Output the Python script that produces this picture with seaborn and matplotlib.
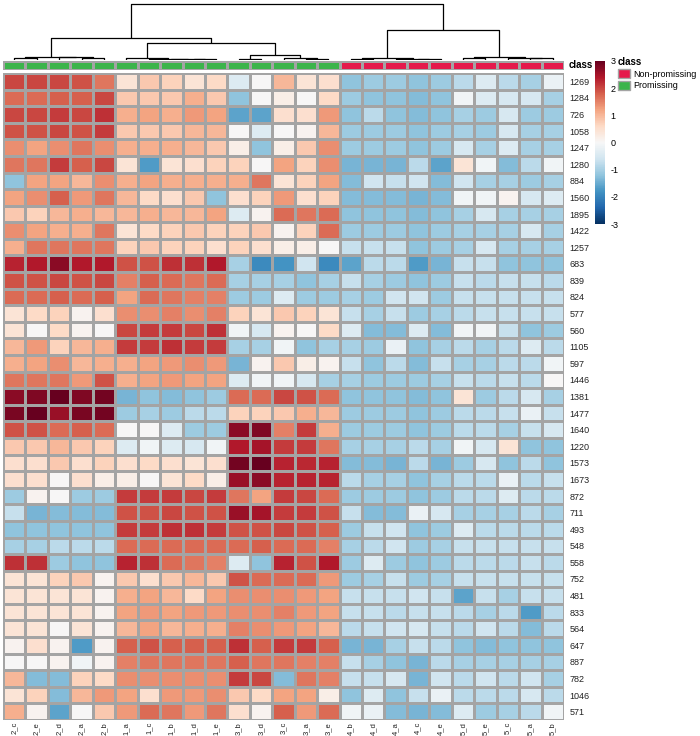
import numpy as np
import pandas as pd
import matplotlib
matplotlib.use("Agg")
import matplotlib.pyplot as plt
from matplotlib.colors import ListedColormap
from matplotlib.patches import Patch
import seaborn as sns

# ---------------- data ----------------
columns = ["2_c", "2_e", "2_d", "2_a", "2_b",
           "1_a", "1_c", "1_b", "1_d", "1_e",
           "3_b", "3_d", "3_c", "3_a", "3_e",
           "4_b", "4_d", "4_a", "4_c", "4_e",
           "5_d", "5_e", "5_c", "5_a", "5_b"]
classes = ["Promissing"] * 15 + ["Non-promissing"] * 10
class_names = ["Non-promissing", "Promissing"]

features = ["1269", "1284", "726", "1058", "1247", "1280", "884", "1560", "1895",
            "1422", "1257", "683", "839", "824", "577", "560", "1105", "597",
            "1446", "1381", "1477", "1640", "1220", "1573", "1673", "872", "711",
            "493", "548", "558", "752", "481", "833", "564", "647", "887", "782",
            "1046", "571"]

values = [
    [2.0, 2.0, 2.0, 1.9, 1.6,  0.4, 0.8, 0.7, 0.4, 0.6,  -0.4, 0.0, 1.0, 0.4, 0.5,  -1.2, -1.1, -1.1, -1.2, -1.1,  -0.8, -0.4, -0.8, -1.0, -0.2],
    [1.7, 1.7, 1.8, 1.8, 2.0,  0.8, 0.8, 0.8, 1.1, 0.8,  -1.2, 0.0, 0.2, 0.0, 0.6,  -1.1, -1.2, -1.2, -1.3, -1.2,  -0.1, -0.4, -0.5, -0.5, -1.0],
    [2.0, 2.0, 2.1, 2.0, 2.2,  1.1, 1.2, 1.1, 1.3, 1.2,  -1.6, -1.6, 0.5, 0.5, 1.3,  -1.2, -0.8, -1.2, -1.3, -1.2,  -1.0, -1.1, -0.5, -1.1, -1.1],
    [1.9, 1.9, 2.0, 1.9, 2.1,  0.8, 0.8, 0.8, 1.0, 1.0,  0.0, -0.4, 0.0, 0.1, 1.0,  -1.1, -1.1, -1.1, -1.2, -1.1,  -1.0, -1.1, -0.5, -1.0, -1.0],
    [1.4, 1.2, 1.4, 1.6, 1.4,  1.1, 1.1, 1.1, 1.0, 0.8,  0.2, -1.2, 0.2, 0.8, 1.4,  -1.1, -1.1, -1.1, -1.2, -1.1,  -0.5, -1.0, -0.4, -1.0, -1.0],
    [1.6, 1.6, 2.1, 1.8, 2.0,  0.4, -1.7, 0.4, 0.5, 0.7,  0.7, 0.0, 1.2, 0.7, 1.4,  -1.4, -1.4, -1.4, -0.8, -1.6,  0.4, -0.1, -1.3, -0.8, -0.1],
    [-1.2, 1.2, 1.2, 1.0, 1.4,  1.1, 1.2, 1.1, 1.1, 1.1,  1.1, 1.6, 0.4, 0.7, 1.2,  -1.3, -0.6, -0.7, -0.6, -1.3,  -0.6, -1.0, -1.0, -1.1, -1.0],
    [1.2, 1.4, 1.8, 1.3, 1.6,  1.0, 0.6, 0.5, 0.8, -1.2,  0.5, 0.7, 1.3, 0.5, 0.7,  -1.3, -1.3, -1.3, -1.4, -1.3,  -0.1, -0.1, 0.1, -0.5, -0.4],
    [0.8, 0.7, 1.0, 1.1, 1.0,  1.0, 1.1, 1.0, 1.0, 1.2,  -0.4, 0.1, 1.7, 1.6, 1.7,  -1.2, -1.2, -1.2, -1.3, -1.2,  -1.0, -0.5, -1.0, -1.0, -1.0],
    [1.4, 1.2, 1.1, 1.1, 1.6,  0.4, 0.6, 0.7, 0.8, 0.7,  0.7, 0.8, 0.1, 0.7, 1.7,  -1.1, -1.1, -1.1, -1.2, -1.1,  -1.0, -1.0, -1.0, -0.5, -1.0],
    [1.1, 1.6, 1.6, 1.6, 1.6,  0.7, 0.8, 0.7, 0.7, 0.5,  0.7, 0.5, 0.2, 0.2, 0.0,  -0.7, -0.7, -0.7, -1.2, -1.1,  -1.0, -0.5, -1.0, -1.0, -1.0],
    [2.3, 2.4, 2.7, 2.4, 2.4,  1.9, 1.9, 2.2, 2.2, 2.4,  -1.0, -1.9, -1.8, -0.6, -1.9,  -1.6, -0.8, -0.8, -1.7, -1.4,  -0.7, -0.7, -1.2, -1.2, -1.2],
    [1.9, 1.9, 2.0, 1.9, 2.0,  1.5, 1.8, 1.7, 1.6, 1.7,  -1.0, -1.0, -1.0, -1.2, -1.0,  -0.7, -1.0, -1.1, -1.2, -1.1,  -0.7, -0.8, -0.7, -0.7, -0.8],
    [1.7, 1.7, 1.8, 1.7, 1.8,  1.2, 1.7, 1.6, 1.5, 1.5,  -1.1, -1.1, -0.4, -1.1, -1.1,  -1.0, -1.1, -0.6, -0.6, -1.1,  -0.7, -0.7, -0.7, -0.7, -0.7],
    [0.4, 0.6, 0.7, 0.1, 0.5,  1.4, 1.4, 1.5, 1.4, 1.5,  0.7, 0.4, 0.8, 0.7, 0.4,  -0.7, -1.0, -0.7, -1.1, -1.0,  -0.8, -0.7, -0.7, -0.7, -0.7],
    [0.4, 0.0, 0.6, 0.1, 0.0,  2.0, 2.1, 2.1, 2.0, 2.2,  -0.1, -0.5, 0.1, 0.0, 0.6,  -0.4, -1.3, -1.3, -0.4, -1.3,  -0.1, -0.1, -0.7, -1.2, -1.1],
    [1.0, 1.3, 0.7, 1.0, 1.1,  2.1, 2.1, 2.2, 2.1, 2.1,  -1.0, -1.0, -0.1, -1.2, -1.0,  -1.0, -1.1, -0.2, -1.2, -1.0,  -0.8, -1.0, -0.8, -0.4, -0.8],
    [1.1, 1.2, 1.4, 1.0, 1.1,  1.1, 1.2, 1.3, 1.4, 1.3,  -1.4, 0.1, 0.8, 0.2, 0.1,  -0.7, -1.2, -0.8, -1.3, -0.7,  -1.0, -1.0, -0.8, -0.8, -0.1],
    [1.6, 1.6, 1.6, 1.3, 1.9,  1.1, 1.2, 1.3, 1.2, 1.2,  -0.4, -0.1, -0.1, -0.5, -1.0,  -1.0, -1.1, -1.1, -1.1, -1.0,  -0.7, -0.8, -0.7, -0.8, 0.0],
    [2.7, 2.8, 3.0, 2.8, 2.9,  -1.4, -1.2, -1.3, -1.2, -1.1,  1.7, 1.7, 2.0, 1.9, 1.7,  -1.2, -1.2, -1.2, -1.3, -1.2,  0.4, -1.1, -0.8, -0.5, -1.0],
    [2.85, 3.0, 2.6, 2.85, 2.9,  -1.1, -1.0, -1.1, -0.8, -0.8,  0.7, 0.7, 0.8, 1.1, 1.0,  -1.1, -1.1, -1.1, -1.2, -1.1,  -0.8, -0.8, -0.7, -0.2, -0.7],
    [1.9, 1.9, 1.7, 1.8, 1.7,  0.0, 0.0, -0.4, -1.1, -1.1,  2.7, 2.8, 1.5, 2.1, 1.1,  -1.1, -1.1, -1.1, -1.2, -1.1,  -0.8, -0.8, -1.0, -0.7, -0.5],
    [0.8, 0.8, 1.0, 0.8, 0.7,  -0.4, -0.1, -0.4, -0.5, -0.1,  2.4, 2.5, 2.1, 2.1, 1.6,  -1.0, -1.0, -1.0, -0.8, -1.0,  -0.1, -0.5, 0.4, -1.2, -1.2],
    [0.5, 0.5, 0.8, 0.5, 0.7,  0.5, 0.6, 0.5, 0.4, 0.5,  2.9, 3.0, 2.3, 2.25, 2.3,  -1.3, -1.3, -1.4, -0.8, -1.4,  -1.1, -0.5, -1.2, -0.8, -1.2],
    [0.5, 0.5, 0.0, 0.5, 0.2,  0.2, 0.0, 0.4, 0.6, 0.2,  2.6, 2.7, 2.3, 2.3, 2.3,  -0.8, -1.0, -1.0, -1.2, -1.0,  -0.8, -0.8, -0.2, -0.8, -0.7],
    [-1.1, 0.1, 0.0, -1.1, -1.1,  2.1, 2.1, 2.1, 2.0, 2.1,  1.6, 1.2, 2.1, 2.0, 1.7,  -1.1, -1.1, -1.1, -1.2, -1.1,  -0.8, -0.8, -0.4, -0.8, -0.8],
    [-0.7, -1.4, -1.3, -1.3, -1.3,  1.9, 1.9, 2.0, 1.9, 1.9,  2.6, 2.5, 2.1, 2.1, 1.9,  -0.7, -1.3, -1.3, -0.2, -0.5,  -1.0, -1.0, -1.0, -0.8, -1.0],
    [-1.2, -1.2, -1.2, -1.2, -1.2,  2.1, 2.1, 2.2, 2.2, 2.1,  1.9, 1.9, 2.0, 1.9, 1.8,  -1.1, -0.7, -0.6, -1.2, -1.1,  -0.4, -0.8, -0.8, -0.8, -0.8],
    [-1.0, -1.0, -0.8, -0.8, -0.8,  1.7, 1.7, 1.7, 1.7, 1.7,  1.7, 1.8, 1.7, 1.7, 1.5,  -1.0, -0.8, -0.6, -1.1, -1.0,  -0.7, -0.7, -0.7, -0.7, -0.7],
    [2.2, 2.2, -1.1, -1.2, -1.2,  2.3, 2.2, 1.7, 1.6, 1.5,  -0.4, -1.2, 2.3, 1.9, 2.4,  -1.1, -0.4, -1.1, -1.2, -1.1,  -0.8, -0.8, -0.8, -0.7, -0.8],
    [0.4, 0.4, 0.7, 0.8, 0.1,  0.8, 0.5, 0.8, 1.0, 0.8,  1.9, 1.7, 1.7, 1.7, 1.3,  -1.1, -1.0, -0.7, -1.1, -1.0,  -0.7, -0.7, -0.7, -0.7, -0.7],
    [0.4, 0.4, 0.4, 0.4, 0.1,  1.1, 1.2, 1.0, 0.6, 1.2,  1.4, 1.4, 1.4, 1.3, 1.2,  -0.7, -0.7, -0.7, -0.6, -0.7,  -1.6, -0.7, -1.0, -0.7, -0.7],
    [0.4, 0.4, 0.4, 0.4, 0.1,  1.2, 1.3, 1.2, 1.3, 1.3,  1.4, 1.4, 1.5, 1.3, 1.2,  -0.7, -0.7, -0.8, -0.7, -0.7,  -0.8, -1.0, -0.8, -1.7, -0.8],
    [0.4, 0.4, 0.0, 0.4, 0.1,  1.0, 1.2, 1.0, 1.1, 1.1,  1.5, 1.4, 1.3, 1.2, 1.0,  -0.8, -0.7, -0.6, -0.5, -0.7,  -0.8, -0.6, -0.8, -1.3, -0.8],
    [0.1, 0.5, 0.1, -1.7, 0.1,  1.8, 1.9, 1.8, 1.8, 1.8,  2.2, 1.8, 2.1, 2.1, 1.8,  -1.4, -1.4, -1.0, -0.7, -0.8,  -1.2, -1.3, -1.2, -1.2, -1.2],
    [0.0, 0.0, 0.1, -0.1, 0.1,  1.5, 1.6, 1.6, 1.6, 1.6,  1.8, 1.6, 1.6, 1.5, 1.5,  -0.7, -1.0, -1.2, -1.4, -0.8,  -1.0, -1.0, -1.0, -1.0, -1.0],
    [1.0, -1.3, -1.3, 0.7, 0.6,  1.4, 1.4, 1.4, 1.4, 1.4,  2.1, 2.0, -1.3, 1.6, 1.5,  -0.7, -0.7, -0.5, -1.4, -0.6,  -0.8, -0.6, -0.8, -0.6, -1.0],
    [0.4, 0.7, -1.3, 1.0, 1.3,  1.2, 0.5, 1.3, 1.3, 1.4,  0.8, 0.6, 1.2, 1.2, 0.2,  -1.2, -0.4, -1.2, -0.7, -0.2,  -0.8, -0.8, -0.8, -0.5, -0.8],
    [1.1, 0.1, -1.6, 0.0, 0.8,  1.3, 1.7, 1.6, 1.3, 1.6,  0.5, 0.1, 1.8, 1.3, 1.7,  -0.1, -0.2, -1.3, -1.4, -1.3,  -0.4, -1.1, -1.0, -0.8, -0.1],
]

# column dendrogram: (left, right, merge height)
g2 = (("2_c", "2_e", 2.0), ("2_d", ("2_a", "2_b", 1.8), 2.8), 3.4)
g1 = ("1_a", ("1_c", ("1_b", ("1_d", "1_e", 0.8), 1.2), 1.5), 1.9)
g3 = (("3_b", "3_d", 1.0), ("3_c", ("3_a", "3_e", 1.0), 2.0), 5.0)
g4 = (("4_b", "4_d", 1.0), ("4_a", ("4_c", "4_e", 0.8), 1.2), 1.6)
g5 = (("5_d", "5_e", 1.8), ("5_c", ("5_a", "5_b", 1.6), 2.4), 3.3)
tree = ((g2, (g1, g3, 16.7), 21.7), (g4, g5, 30.0), 56.0)

# ---------------- styling ----------------
RED = "#e5194b"
GREEN = "#3cb44b"
GRID = "#a4a4a4"
plt.rcParams["font.family"] = ["Liberation Sans", "DejaVu Sans"]
plt.rcParams["axes.unicode_minus"] = False

W, H = 700, 736
fig = plt.figure(figsize=(W / 100, H / 100), dpi=100)


def box(x0, y0, x1, y1):
    return [x0 / W, 1 - y1 / H, (x1 - x0) / W, (y1 - y0) / H]


df = pd.DataFrame(values, index=features, columns=columns)

ax = fig.add_axes(box(3, 73, 564, 720))
cax = fig.add_axes(box(595, 61, 605, 224))
sns.heatmap(df, ax=ax, cmap="RdBu_r", vmin=-3, vmax=3, linewidths=0.9,
            linecolor=GRID, cbar_ax=cax,
            cbar_kws={"ticks": [-3, -2, -1, 0, 1, 2, 3]},
            xticklabels=True, yticklabels=True)
ax.yaxis.tick_right()
ax.set_yticklabels(features, rotation=0, fontsize=6.5, color="#222222")
ax.set_xticklabels(columns, rotation=90, fontsize=5.5, color="#222222")
ax.tick_params(axis="both", length=0)
ax.tick_params(axis="y", pad=4)
ax.tick_params(axis="x", pad=1.5)
ax.set_xlabel("")
ax.set_ylabel("")

cbar = ax.collections[0].colorbar
cbar.outline.set_visible(False)
cax.tick_params(length=0, labelsize=6.5, pad=4)

# class bar
cls_ax = fig.add_axes(box(3, 61, 564, 70))
codes = pd.DataFrame([[class_names.index(c) for c in classes]], columns=columns)
sns.heatmap(codes, ax=cls_ax, cmap=ListedColormap([RED, GREEN]), vmin=0, vmax=1,
            cbar=False, linewidths=0.9, linecolor=GRID,
            xticklabels=False, yticklabels=False)
cls_ax.text(1.008, 0.5, "class", transform=cls_ax.transAxes, fontsize=7,
            fontweight="bold", va="center", ha="left")

# dendrogram
dax = fig.add_axes(box(3, 3, 564, 60))
dax.set_xlim(0, len(columns))
dax.set_ylim(0, 57)
dax.axis("off")


def draw(node):
    if isinstance(node, str):
        return columns.index(node) + 0.5, 0.0
    left, right, h = node
    xl, hl = draw(left)
    xr, hr = draw(right)
    dax.plot([xl, xl, xr, xr], [hl, h, h, hr], color="black", lw=0.9,
             solid_capstyle="butt")
    return (xl + xr) / 2, h


draw(tree)

# legend
handles = [Patch(facecolor=RED, edgecolor=GRID, label="Non-promissing"),
           Patch(facecolor=GREEN, edgecolor=GRID, label="Promissing")]
leg = fig.legend(handles=handles, title="class", loc="upper left",
                 bbox_to_anchor=(618 / W, 1 - 57 / H), frameon=False,
                 fontsize=6.5, title_fontproperties={"weight": "bold", "size": 7},
                 handlelength=1.3, handleheight=1.1, handletextpad=0.4,
                 labelspacing=0.25, borderaxespad=0, borderpad=0,
                 alignment="left")

fig.savefig("out.png", dpi=100)
